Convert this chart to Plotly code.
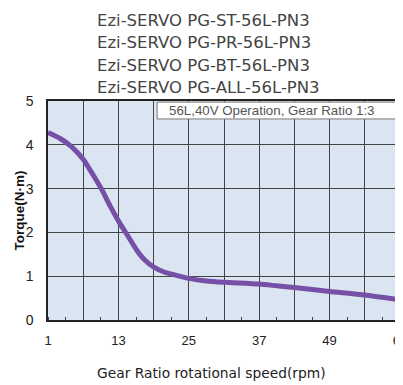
import plotly.graph_objects as go

title_lines = ["Ezi-SERVO PG-ST-56L-PN3", "Ezi-SERVO PG-PR-56L-PN3",
               "Ezi-SERVO PG-BT-56L-PN3", "Ezi-SERVO PG-ALL-56L-PN3"]
speed = [1, 3, 5, 7, 8.7, 10.2, 11.6, 13.1, 14.7, 16.1, 17.5, 19.1, 20.9, 22.9, 25, 28, 31, 37, 40, 43, 49, 55, 61]
torque = [4.28, 4.15, 3.96, 3.67, 3.31, 2.97, 2.6, 2.24, 1.9, 1.6, 1.37, 1.2, 1.09, 1.02, 0.95, 0.89, 0.86, 0.82, 0.78, 0.74, 0.65, 0.57, 0.46]
x_grid = list(range(1, 62, 6))
x_labels = [str(v) if (v - 1) % 12 == 0 else "" for v in x_grid]
y_ticks = [0, 1, 2, 3, 4, 5]
note = "56L,40V Operation, Gear Ratio 1:3"
x_title = "Gear Ratio rotational speed(rpm)"
y_title = "Torque(N·m)"

PLOT_H = 219
fig = go.Figure()
fig.add_trace(go.Scatter(x=speed, y=torque, mode="lines",
                         line=dict(color="#7650a6", width=5, shape="spline", smoothing=0.6)))

title_font = "DejaVu Sans, Liberation Sans, Arial"
narrow = "Liberation Sans Narrow, Liberation Sans, Arial"
offsets = [80.5, 58.2, 36, 13.7]
for t, off in zip(title_lines, offsets):
    fig.add_annotation(text=t, xref="paper", yref="paper", x=0.1335, y=1 + off / PLOT_H,
                       xanchor="left", yanchor="middle", showarrow=False,
                       font=dict(family=title_font, size=16.5, color="#444"))

# note box
fig.add_shape(type="rect", xref="paper", yref="paper", x0=0.31, x1=0.997, y0=0.918, y1=0.995,
              fillcolor="white", line=dict(color="#777", width=1), layer="above")
fig.add_annotation(text=note, xref="paper", yref="paper", x=0.337, y=0.957,
                   xanchor="left", yanchor="middle", showarrow=False,
                   font=dict(family="Liberation Sans, Arial", size=13.3, color="#555"))

fig.add_annotation(text=x_title, xref="paper", yref="paper", x=0.464, y=-53 / PLOT_H,
                   xanchor="center", yanchor="middle", showarrow=False,
                   font=dict(family=title_font, size=13.8, color="#222"))
fig.add_annotation(text="<b>" + y_title + "</b>", xref="paper", yref="paper", x=-29 / 352, y=0.5, textangle=-90,
                   xanchor="center", yanchor="middle", showarrow=False,
                   font=dict(family=narrow, size=13.5, color="#111"))

# page has an 8px body margin, so the figure is sized/offset to put the plot at the reference position
fig.update_layout(
    width=395, height=377, margin=dict(l=40, r=3, t=93, b=65, autoexpand=False),
    paper_bgcolor="white", plot_bgcolor="#dbe5f1", showlegend=False,
    xaxis=dict(range=[1, 61], tickvals=x_grid, ticktext=x_labels, showgrid=True, gridcolor="#444", gridwidth=1,
               zeroline=False, showline=True, linecolor="#222", linewidth=1.5, mirror=True, ticks="",
               ticklabeloverflow="allow", ticklabelstandoff=8, automargin=False,
               tickfont=dict(family=narrow, size=13, color="#222"),
               minor=dict(dtick=3, tick0=1, ticks="inside", ticklen=3, tickcolor="#444", showgrid=False)),
    yaxis=dict(range=[0, 5], tickvals=y_ticks, showgrid=True, gridcolor="#444", gridwidth=1,
               zeroline=False, showline=True, linecolor="#222", linewidth=1.5, mirror=True, ticks="",
               ticklabelstandoff=10, automargin=False,
               tickfont=dict(family=narrow, size=14, color="#222")),
)
fig.write_html("out.html")
